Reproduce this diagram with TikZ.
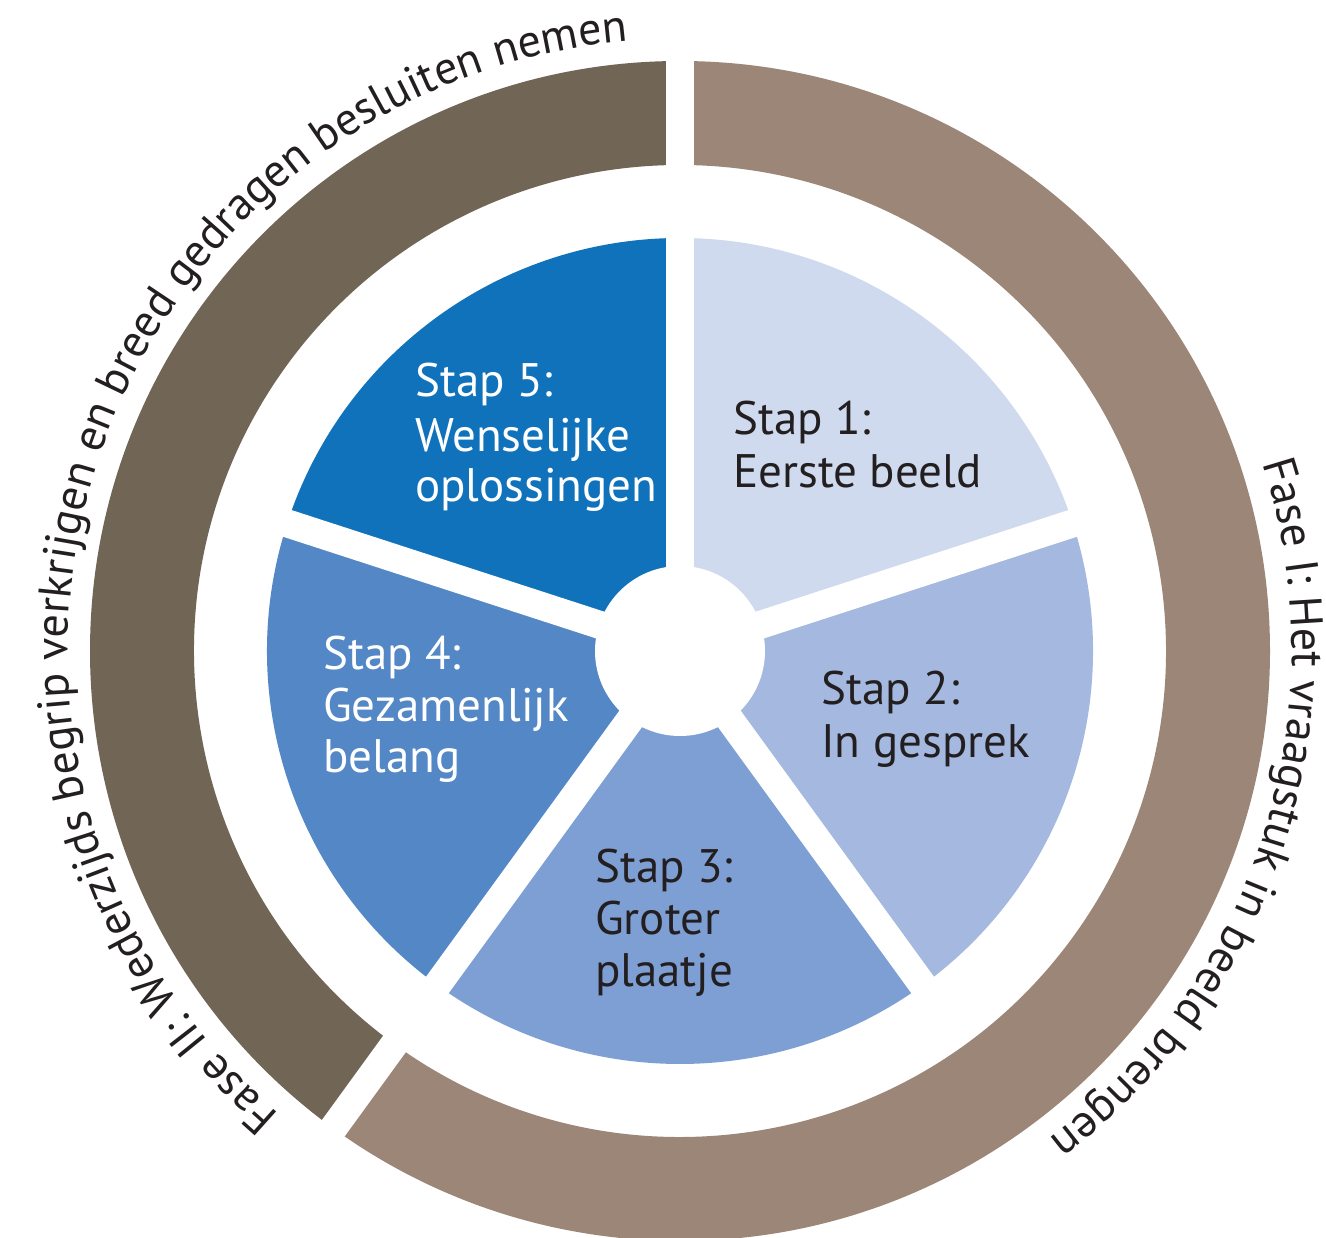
\documentclass[tikz,border=0pt]{standalone}
\usepackage{fontspec}
\setmainfont{PT Sans}
\usetikzlibrary{decorations.text}
\definecolor{txtgray}{HTML}{231F20}
\definecolor{ringdark}{HTML}{716555}
\definecolor{ringlight}{HTML}{9C8678}
\definecolor{sA}{HTML}{CFDAEE}
\definecolor{sB}{HTML}{A4B8E0}
\definecolor{sC}{HTML}{7E9FD3}
\definecolor{sD}{HTML}{5487C6}
\definecolor{sE}{HTML}{1072BB}
\tikzset{
  lbl/.style={anchor=base west, inner sep=0pt, font=\fontsize{47}{53}\selectfont, text=txtgray},
  lblw/.style={lbl, text=white},
  gapline/.style={white, line width=28pt},
}
\begin{document}
\begin{tikzpicture}[x=1pt,y=1pt]
\useasboundingbox (0,0) rectangle (1326,1238);
\fill[white] (0,0) rectangle (1326,1238);
\begin{scope}[shift={(680,587)}]
  % outer ring
  \fill[ringlight] (90:590) arc[start angle=90,end angle=-126,radius=590]
     -- (-126:486) arc[start angle=-126,end angle=90,radius=486] -- cycle;
  \fill[ringdark] (90:590) arc[start angle=90,end angle=234,radius=590]
     -- (234:486) arc[start angle=234,end angle=90,radius=486] -- cycle;
  \draw[gapline] (90:470) -- (90:610);
  \draw[gapline] (234:470) -- (234:610);
  % pie
  \fill[sA] (0,0) -- (18:413) arc[start angle=18,end angle=90,radius=413] -- cycle;
  \fill[sB] (0,0) -- (-54:413) arc[start angle=-54,end angle=18,radius=413] -- cycle;
  \fill[sC] (0,0) -- (-126:413) arc[start angle=-126,end angle=-54,radius=413] -- cycle;
  \fill[sD] (0,0) -- (162:413) arc[start angle=162,end angle=234,radius=413] -- cycle;
  \fill[sE] (0,0) -- (90:413) arc[start angle=90,end angle=162,radius=413] -- cycle;
  \foreach \a in {90,18,-54,-126,162} \draw[gapline] (0,0) -- (\a:425);
  \fill[white] (0,0) circle[radius=85];
  % curved texts
  \path[decorate, decoration={text along path, text align=center,
     text={|\fontsize{46}{46}\selectfont\color{txtgray}|Fase II: Wederzijds begrip verkrijgen en breed gedragen besluiten nemen}}]
     (232:612) arc[start angle=232,end angle=92,radius=612];
  \path[decorate, decoration={text along path, text align=center,
     text={|\fontsize{46}{46}\selectfont\color{txtgray}|Fase I: Het vraagstuk in beeld brengen}}]
     (20:612) arc[start angle=20,end angle=-55,radius=612];
\end{scope}
% labels (image y -> 1238 - y)
\node[lbl] (s1a) at (733,803) {Stap 1:};
\node[lbl] (s1b) at (733,750) {Eerste beeld};
\node[lbl] (s2a) at (821,533) {Stap 2:};
\node[lbl] (s2b) at (821,480) {In gesprek};
\node[lbl] (s3a) at (595,355) {Stap 3:};
\node[lbl] (s3b) at (595,303) {Groter};
\node[lbl] (s3c) at (595,251) {plaatje};
\node[lblw] (s4a) at (323,568) {Stap 4:};
\node[lblw] (s4b) at (323,516) {Gezamenlijk};
\node[lblw] (s4c) at (323,465) {belang};
\node[lblw] (s5a) at (415,841) {Stap 5:};
\node[lblw] (s5b) at (415,786) {Wenselijke};
\node[lblw] (s5c) at (415,736) {oplossingen};
\end{tikzpicture}
\end{document}
